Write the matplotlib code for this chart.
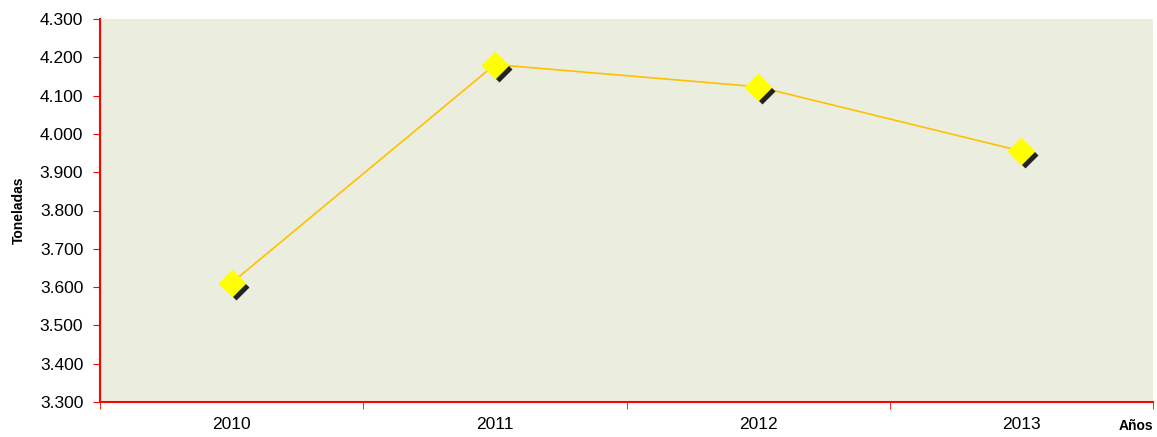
import numpy as np
import matplotlib.pyplot as plt
import matplotlib.transforms as mtransforms
from matplotlib.ticker import FuncFormatter, FixedLocator

anios = ["2010", "2011", "2012", "2013"]
toneladas = [3611, 4181, 4123, 3955]

plt.rcParams['font.family'] = ['Liberation Sans', 'DejaVu Sans']

fig = plt.figure(figsize=(11.57, 4.37), dpi=100)
ax = fig.add_axes([100/1157, 1 - 402/437, 1053/1157, 383/437])
ax.set_facecolor("#ebeedf")

x = np.arange(len(anios))
ax.plot(x, toneladas, color="#ffc000", lw=1.2, zorder=2)
# sombra de los marcadores
sombra = mtransforms.offset_copy(ax.transData, fig=fig, x=4, y=-4, units="dots")
ax.plot(x, toneladas, "D", color="black", ms=13, mec="none", alpha=0.85,
        transform=sombra, zorder=3)
ax.plot(x, toneladas, "D", color="#ffff00", ms=13, mec="#ffff00", zorder=4)

ax.set_xlim(-0.5, 3.5)
ax.set_ylim(3300, 4300)
ax.set_yticks(np.arange(3300, 4301, 100))
ax.yaxis.set_major_formatter(FuncFormatter(lambda v, p: f"{v/1000:.3f}"))
ax.set_xticks(x)
ax.set_xticklabels(anios)
ax.xaxis.set_minor_locator(FixedLocator(np.arange(-0.5, 3.6, 1)))
ax.tick_params(axis="x", which="major", length=0, labelsize=12.5, pad=11)
ax.tick_params(axis="x", which="minor", length=5, color="red", direction="out")
ax.tick_params(axis="y", length=5, color="red", labelsize=12.5, pad=7)

for s in ["top", "right"]:
    ax.spines[s].set_visible(False)
for s in ["left", "bottom"]:
    ax.spines[s].set_color("red")
    ax.spines[s].set_linewidth(1.5)

ax.set_ylabel("Toneladas", fontsize=10, fontweight="bold", labelpad=10)
fig.text(1153/1157, 1 - 426/437, "Años", fontsize=10, fontweight="bold",
         ha="right", va="center")

fig.savefig("out.png", dpi=100)
